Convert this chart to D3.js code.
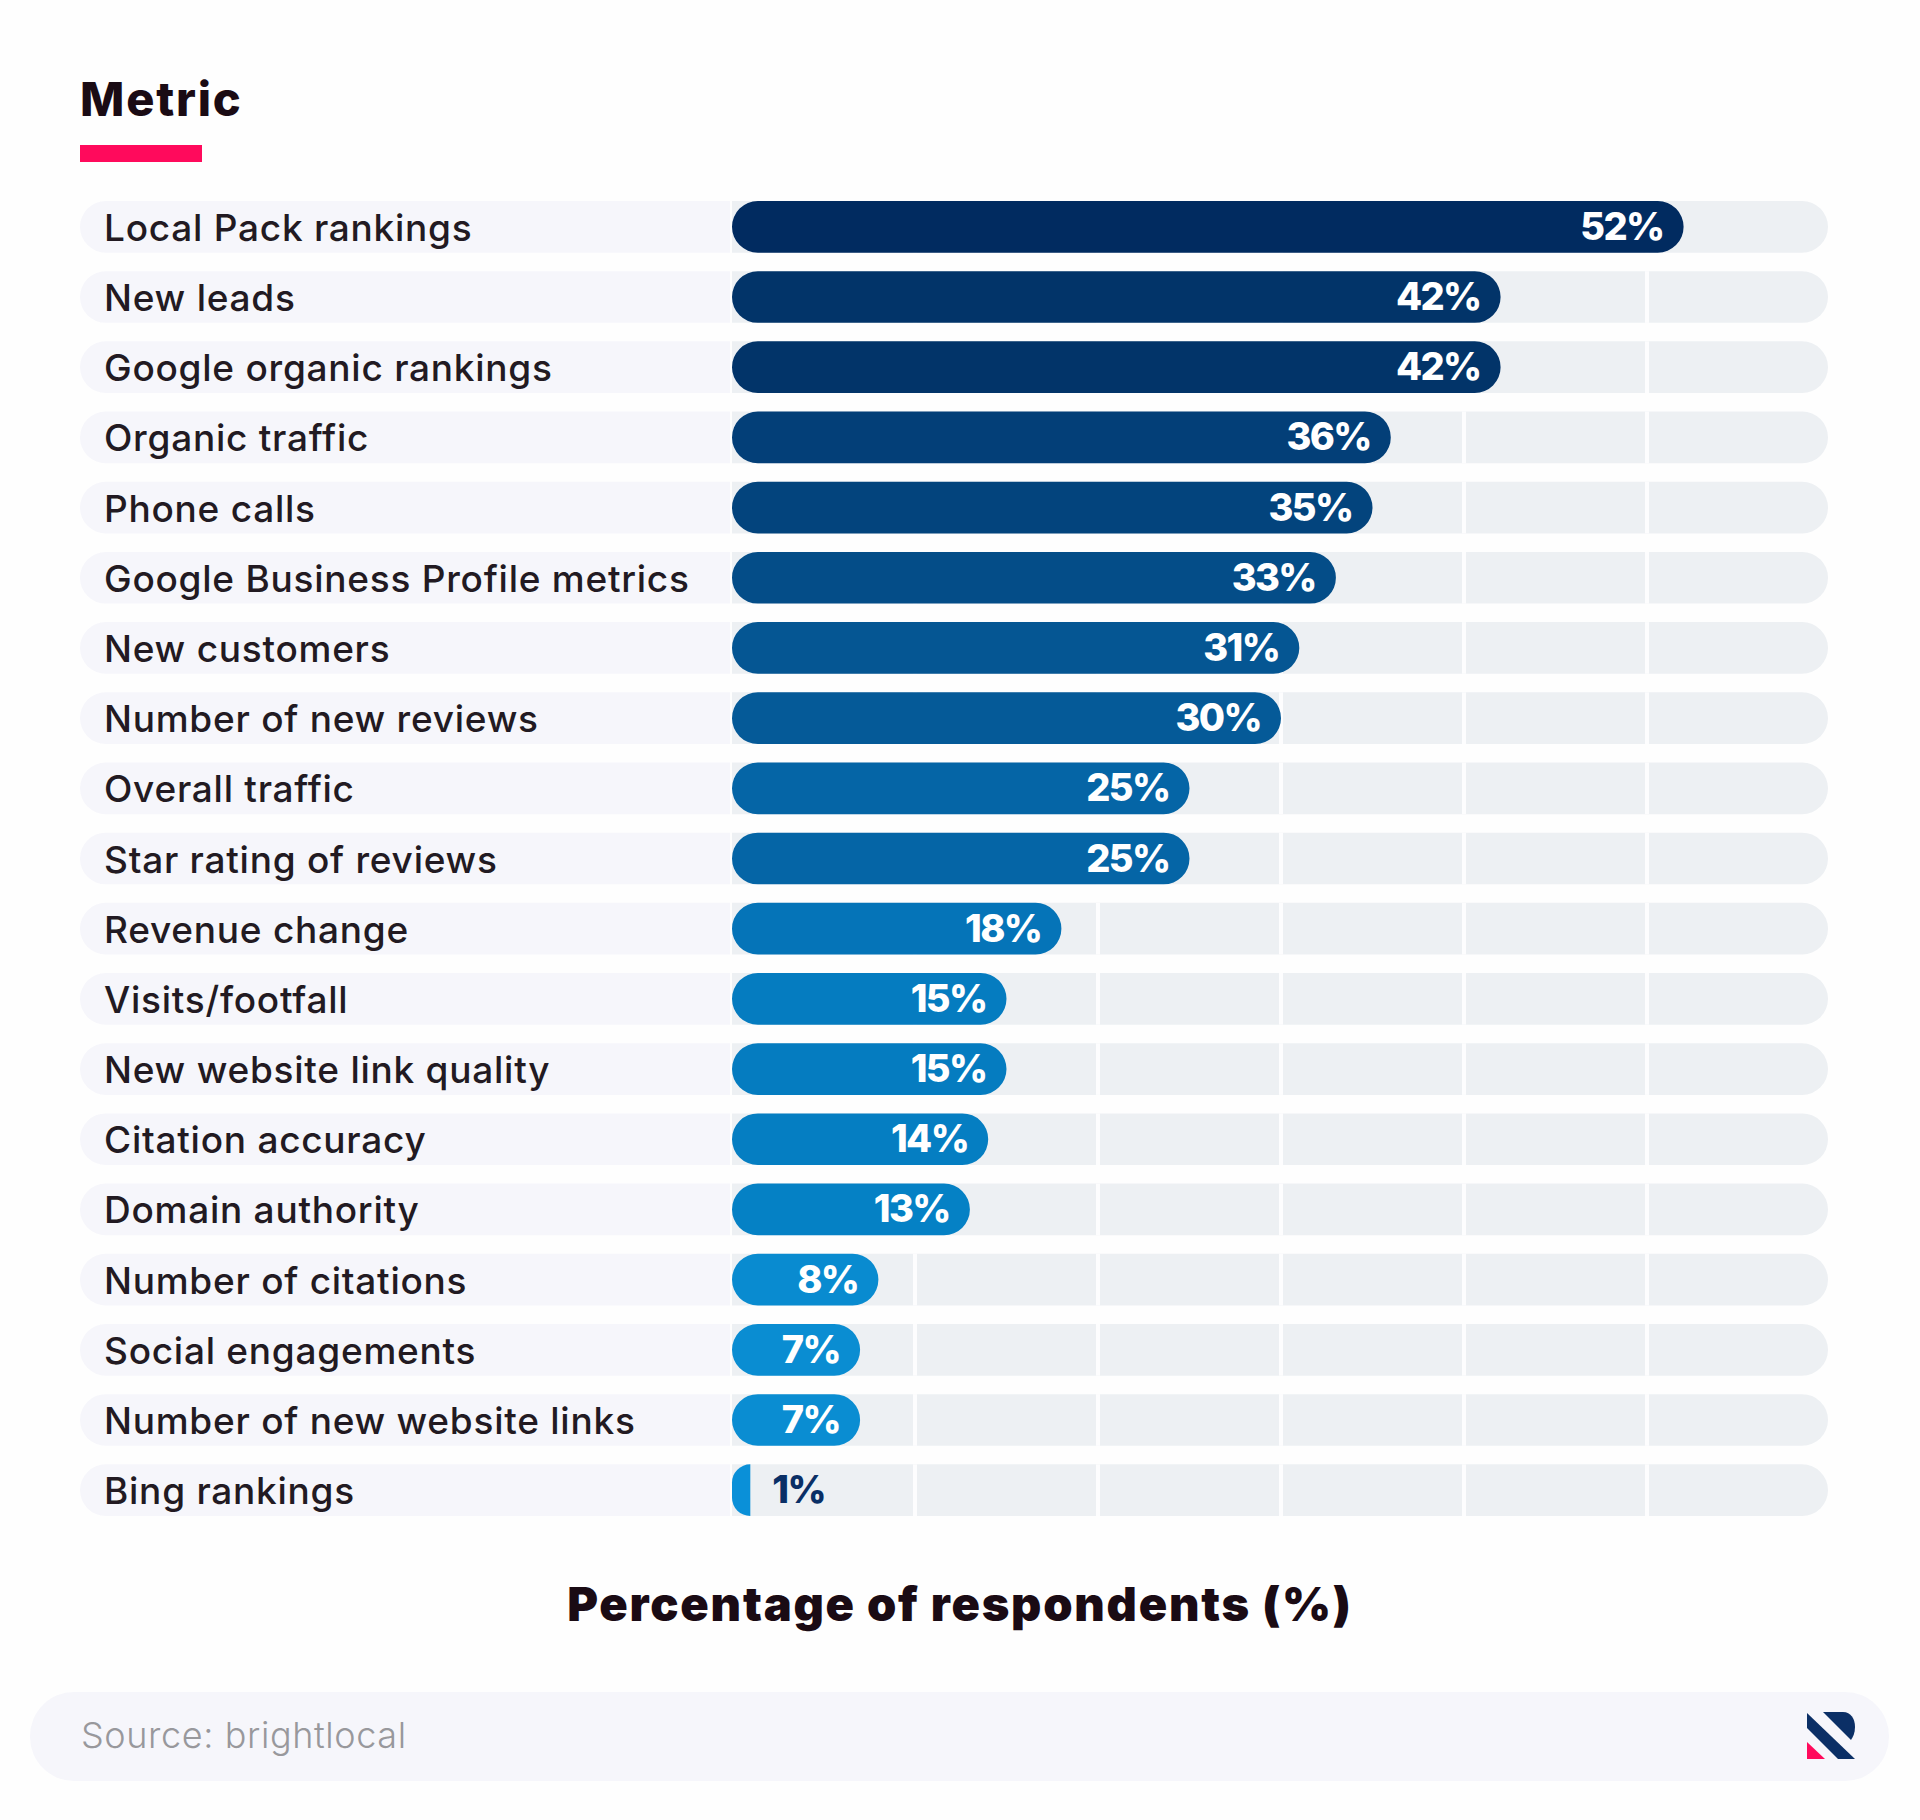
<!DOCTYPE html>
<html>
<head>
<meta charset="utf-8">
<script src="https://d3js.org/d3.v7.min.js"></script>
<style>
html,body{margin:0;padding:0;background:#fefefe}
svg{display:block}
text{font-family:Inter,"Noto Sans",sans-serif}
</style>
</head>
<body>
<svg id="chart" width="1920" height="1820"></svg>
<script>
const categories = ["Local Pack rankings","New leads","Google organic rankings","Organic traffic","Phone calls","Google Business Profile metrics","New customers","Number of new reviews","Overall traffic","Star rating of reviews","Revenue change","Visits/footfall","New website link quality","Citation accuracy","Domain authority","Number of citations","Social engagements","Number of new website links","Bing rankings"];
const values = [52,42,42,36,35,33,31,30,25,25,18,15,15,14,13,8,7,7,1];
const gridTicks = [10,20,30,40,50];
const colorStops = [1,7,13,18,25,30,36,42,52];
const colorRange = ["#0a90d8","#0a8dd2","#0581c5","#0574b8","#0565a6","#055a98","#033f78","#023469","#012b60"];

const svg = d3.select("#chart");
const x = d3.scaleLinear().domain([0,60]).range([732,1830]);
const y = d3.scaleBand().domain(categories).range([201,1516]).paddingInner(18.5/70.2).paddingOuter(0);
const color = d3.scaleLinear().domain(colorStops).range(colorRange);

function pill(x0,x1,y0,h,rl,rr){
  const p=d3.path();
  p.moveTo(x0+rl,y0);
  p.lineTo(x1-rr,y0);
  if(rr) p.arcTo(x1,y0,x1,y0+rr,rr);
  p.lineTo(x1,y0+h-rr);
  if(rr) p.arcTo(x1,y0+h,x1-rr,y0+h,rr);
  p.lineTo(x0+rl,y0+h);
  if(rl) p.arcTo(x0,y0+h,x0,y0+h-rl,rl);
  p.lineTo(x0,y0+rl);
  if(rl) p.arcTo(x0,y0,x0+rl,y0,rl);
  p.closePath();
  return p.toString();
}
const H = y.bandwidth(), R = H/2;

// title
svg.append("text").attr("x",80).attr("y",116).attr("font-size",47).attr("font-weight",800).attr("fill","#1a0b14").attr("letter-spacing",1.8).text("Metric");
svg.append("rect").attr("x",80).attr("y",145).attr("width",122).attr("height",17).attr("fill","#ff0a5c");

const rows = svg.selectAll("g.row").data(categories.map((c,i)=>({c,v:values[i]}))).join("g").attr("class","row");
// label pill
rows.append("path").attr("d",d=>pill(80,730,y(d.c),H,R,0)).attr("fill","#f6f6fb");
// track
rows.append("path").attr("d",d=>pill(x(0),x(60)-2,y(d.c),H,0,R)).attr("fill","#edf0f3");
// grid separators
rows.selectAll("rect.grid").data(d=>gridTicks.map(t=>({t,c:d.c}))).join("rect").attr("class","grid")
  .attr("x",d=>x(d.t)-2).attr("width",4).attr("y",d=>y(d.c)).attr("height",H).attr("fill","#fdfdfe");
// bars
rows.append("path").attr("d",d=>{
  const w=x(d.v)-x(0);
  return pill(x(0),x(d.v),y(d.c),H,Math.min(R,w),w>2*R?R:0);
}).attr("fill",d=>color(d.v));
// category labels
rows.append("text").attr("x",104).attr("y",d=>y(d.c)+H/2+14).attr("font-size",37).attr("font-weight",500).attr("letter-spacing",0.75).attr("fill","#221a22").text(d=>d.c);
// value labels
rows.append("text").attr("x",d=>d.v<3?x(d.v)+22:x(d.v)-20).attr("text-anchor",d=>d.v<3?"start":"end")
  .attr("y",d=>y(d.c)+H/2+13).attr("font-size",38).attr("font-weight",800).attr("letter-spacing",-1.6)
  .attr("fill",d=>d.v<3?"#0a2f66":"#ffffff").text(d=>d.v+"%");

// axis title
svg.append("text").attr("x",960).attr("y",1621).attr("text-anchor","middle").attr("font-size",47).attr("font-weight",900).attr("letter-spacing",1.75).attr("fill","#1a0b14").text("Percentage of respondents (%)");

// footer
svg.append("rect").attr("x",30).attr("y",1692).attr("width",1859).attr("height",89).attr("rx",44).attr("fill","#f6f6fb");
svg.append("text").attr("x",81).attr("y",1748).attr("font-size",36).attr("font-weight",300).attr("letter-spacing",0.6).attr("fill","#98989c").text("Source: brightlocal");

// logo
const logo = svg.append("g").attr("transform","translate(1807,1712)");
logo.append("path").attr("d","M0,1 L0,16 L31,47 L48,47 Z").attr("fill","#0b2f66");
logo.append("path").attr("d","M16,0 L36,0 C44,0 48,7 48,15 C48,21 46,25 44,28 Z").attr("fill","#0b2f66");
logo.append("path").attr("d","M0,30 L18,47 L0,47 Z").attr("fill","#ff0a5c");
</script>
</body>
</html>
